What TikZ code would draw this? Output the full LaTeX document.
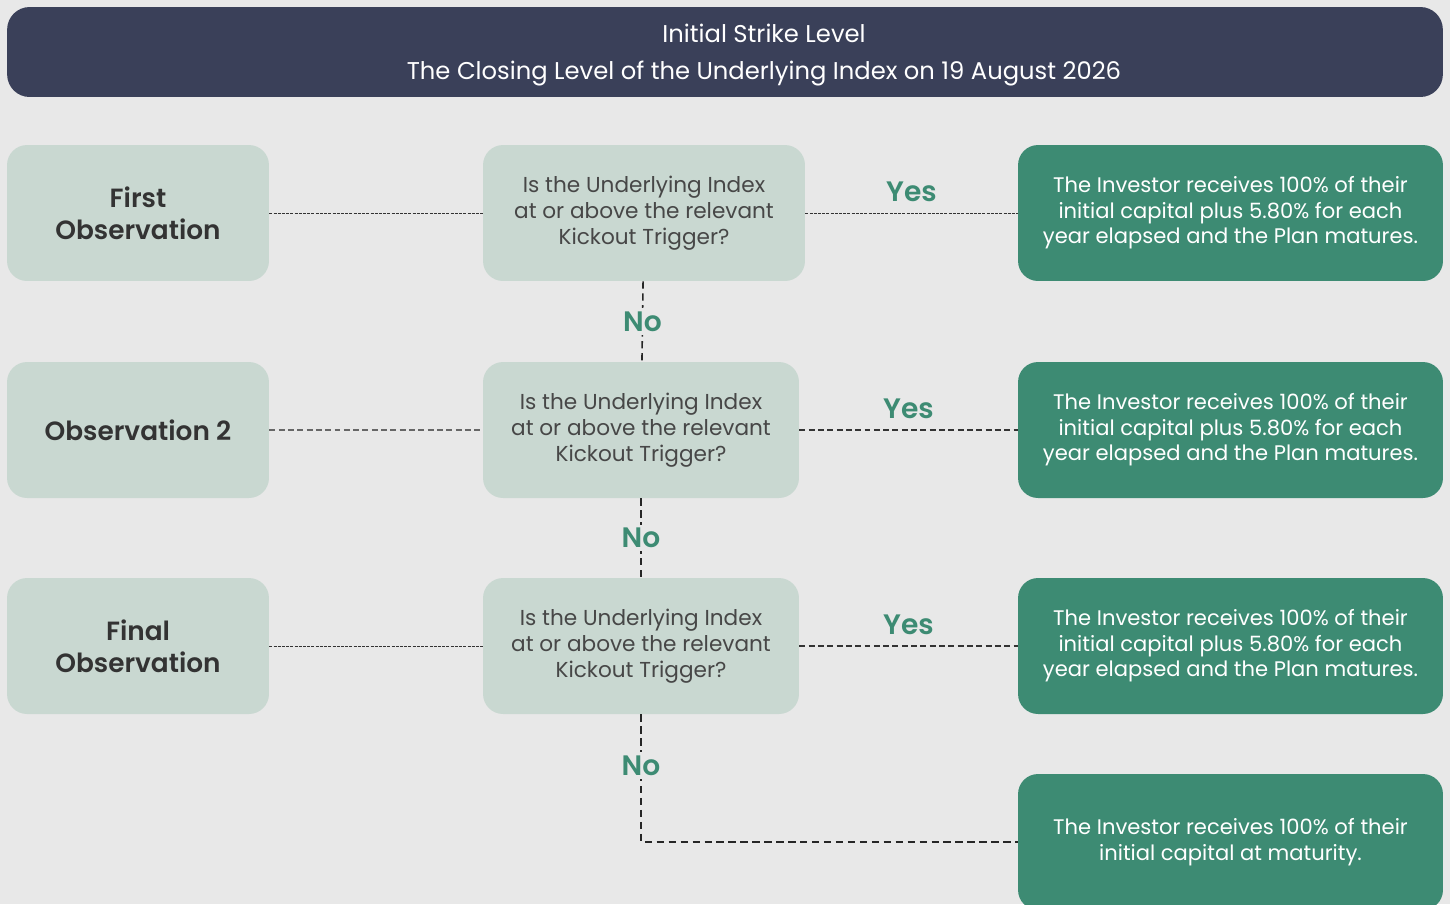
\documentclass[tikz,border=0pt]{standalone}
\usepackage{fontspec}
\setmainfont{Poppins}[BoldFont={Poppins SemiBold}]
\usetikzlibrary{positioning}
\definecolor{bggrey}{HTML}{E8E8E8}
\definecolor{navy}{HTML}{3A4059}
\definecolor{sage}{HTML}{C9D8D1}
\definecolor{pine}{HTML}{3D8B73}
\definecolor{ink}{HTML}{333333}
\begin{document}
\begin{tikzpicture}
        [x=0.02cm,y=-0.02cm,
         every node/.style={align=center,inner sep=0pt},
         obsbox/.style={rectangle,rounded corners=0.4cm,fill=sage,text=ink,font=\bfseries\fontsize{15}{18}\selectfont,minimum width=5.24cm,minimum height=2.72cm},
         askbox/.style={rectangle,rounded corners=0.4cm,fill=sage,text=ink!90,font=\fontsize{12.3}{14.9}\selectfont,minimum width=6.32cm,minimum height=2.72cm},
         paybox/.style={rectangle,rounded corners=0.4cm,fill=pine,text=white,font=\fontsize{12}{14.5}\selectfont,minimum width=8.5cm,minimum height=2.72cm},
         answer/.style={text=pine,font=\bfseries\fontsize{16}{19}\selectfont},
         fineline/.style={draw=ink,line width=0.5pt,dash pattern=on 1.7pt off 0.7pt},
         greyline/.style={draw=ink!75,line width=0.8pt,dash pattern=on 3.4pt off 1.9pt},
         dashline/.style={draw=ink,line width=0.8pt,dash pattern=on 3.4pt off 1.9pt},
         downline/.style={draw=black!85,line width=0.9pt,dash pattern=on 4.2pt off 2.6pt}]
        \fill[bggrey] (0,0) rectangle (1450,904);
        \clip (0,0) rectangle (1450,904);

        \node[rectangle,rounded corners=0.45cm,fill=navy,minimum width=28.72cm,minimum height=1.8cm] (head) at (725,52) {};
        \node[text=white,font=\fontsize{13.8}{21}\selectfont] (title) at (764,55)
            {Initial Strike Level\\The Closing Level of the Underlying Index on 19 August 2026};

        \node[obsbox] (obs1) at (138,213) {First\\Observation};
        \node[obsbox] (obs2) at (138,430) {Observation 2};
        \node[obsbox] (obs3) at (138,646) {Final\\Observation};

        \node[askbox,minimum width=6.44cm] (q1) at (644,213) {Is the Underlying Index\\at or above the relevant\\Kickout Trigger?};
        \node[askbox] (q2) at (641,430) {Is the Underlying Index\\at or above the relevant\\Kickout Trigger?};
        \node[askbox] (q3) at (641,646) {Is the Underlying Index\\at or above the relevant\\Kickout Trigger?};

        \node[paybox] (res1) at (1230.5,213) {The Investor receives 100\% of their\\initial capital plus 5.80\% for each\\year elapsed and the Plan matures.};
        \node[paybox] (res2) at (1230.5,430) {The Investor receives 100\% of their\\initial capital plus 5.80\% for each\\year elapsed and the Plan matures.};
        \node[paybox] (res3) at (1230.5,646) {The Investor receives 100\% of their\\initial capital plus 5.80\% for each\\year elapsed and the Plan matures.};
        \node[paybox] (res4) at (1230.5,842) {The Investor receives 100\% of their\\initial capital at maturity.};

        \foreach \i/\s in {1/fineline, 2/greyline, 3/fineline}
            \draw[\s] (obs\i) -- (q\i);
        \foreach \i/\s in {1/fineline, 2/dashline, 3/dashline}
            \draw[\s] (q\i) -- node[answer,above=0.22cm] (yes\i) {Yes} (res\i);

        \draw[downline] (q1) -- node[answer,fill=bggrey,inner ysep=2pt] (no1) {No} (q2);
        \draw[downline] (q2) -- node[answer,fill=bggrey,inner ysep=2pt] (no2) {No} (q3);
        \draw[downline] (q3.south) |- node[answer,fill=bggrey,inner ysep=2pt,pos=0.2] (no3) {No} (res4.west);

      \end{tikzpicture}
\end{document}
